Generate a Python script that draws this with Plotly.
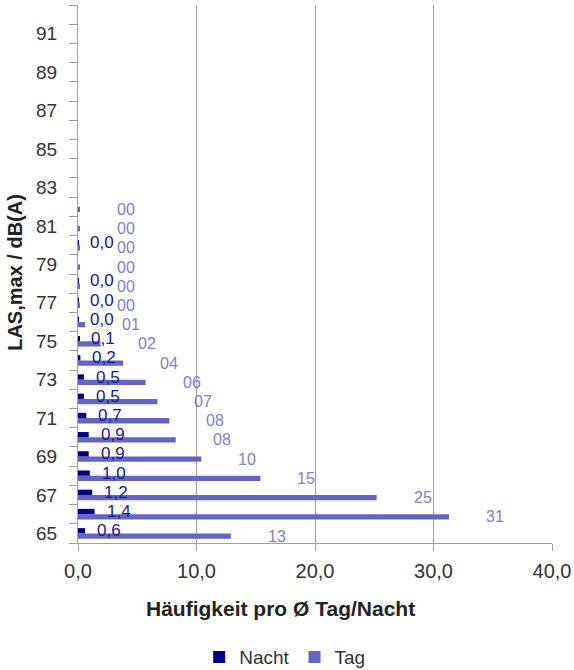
import plotly.graph_objects as go

# ---- data ----
levels = [65, 66, 67, 68, 69, 70, 71, 72, 73, 74, 75, 76, 77, 78,
          79, 80, 81, 82, 83, 84, 85, 86, 87, 88, 89, 90, 91, 92]
nacht = [0.6, 1.4, 1.2, 1.0, 0.9, 0.9, 0.7, 0.5, 0.5, 0.2, 0.1, 0.03, 0.03, 0.03,
         0.0, 0.03, 0.0, 0.0, None, None, None, None, None, None, None, None, None, None]
tag = [12.9, 31.3, 25.2, 15.4, 10.4, 8.25, 7.7, 6.7, 5.7, 3.8, 1.9, 0.6, 0.15, 0.15,
       0.15, 0.15, 0.15, 0.15, None, None, None, None, None, None, None, None, None, None]
y_ticklabels = [65, 67, 69, 71, 73, 75, 77, 79, 81, 83, 85, 87, 89, 91]
x_ticks = [0, 10, 20, 30, 40]

# ---- style ----
C_NACHT = "#000088"
C_TAG = "#6565C1"
C_NACHT_LBL = "#1A1A8C"
C_TAG_LBL = "#8080CC"
GRID = "#A0A0A0"
FONT = "Liberation Sans, Arial, sans-serif"
BARGAP = 0.45
half = (1 - BARGAP) / 4  # offset of each bar centre from category centre

fig = go.Figure()
fig.add_trace(go.Bar(y=levels, x=tag, orientation="h", name="Tag",
                     marker=dict(color=C_TAG, line=dict(width=0)), legendrank=2))
fig.add_trace(go.Bar(y=levels, x=nacht, orientation="h", name="Nacht",
                     marker=dict(color=C_NACHT, line=dict(width=0)), legendrank=1))

annotations = []
for lv, n, t in zip(levels, nacht, tag):
    if t is not None:
        annotations.append(dict(x=t, y=lv - half, xref="x", yref="y",
                                text=f"{int(round(t)):02d}", showarrow=False,
                                xanchor="left", yanchor="middle", xshift=35,
                                font=dict(family=FONT, size=16, color=C_TAG_LBL)))
    if n is not None and n > 0:
        annotations.append(dict(x=n, y=lv + half, xref="x", yref="y",
                                text=f"{n:.1f}".replace(".", ","), showarrow=False,
                                xanchor="left", yanchor="middle", xshift=10,
                                font=dict(family=FONT, size=17, color=C_NACHT_LBL)))

annotations.append(dict(text="<b>Häufigkeit pro Ø Tag/Nacht</b>", xref="paper", yref="paper",
                        x=0.428, y=-0.121, showarrow=False, xanchor="center", yanchor="middle",
                        font=dict(family=FONT, size=21, color="#222222")))
annotations.append(dict(text="<b>LAS,max / dB(A)</b>", xref="paper", yref="paper",
                        x=-0.133, y=0.504, showarrow=False, xanchor="center", yanchor="middle",
                        textangle=-90, font=dict(family=FONT, size=20, color="#222222")))

fig.update_layout(
    width=574, height=670,
    margin=dict(l=78, r=22, t=5, b=127, autoexpand=False),
    paper_bgcolor="white", plot_bgcolor="white",
    barmode="group", bargap=BARGAP, bargroupgap=0,
    separators=",.",
    font=dict(family=FONT, size=19, color="#333333"),
    annotations=annotations,
    legend=dict(orientation="h", xref="paper", yref="paper",
                x=0.436, y=-0.212, xanchor="center", yanchor="middle",
                font=dict(family=FONT, size=19, color="#333333"),
                itemwidth=30, tracegroupgap=0, bgcolor="rgba(0,0,0,0)"),
    showlegend=True,
)

fig.update_xaxes(range=[0, 40], tickmode="array", tickvals=x_ticks, tickformat=".1f",
                 showgrid=True, gridcolor=GRID, gridwidth=1.3,
                 showline=True, linecolor=GRID, linewidth=1.3,
                 ticks="outside", ticklen=7, tickcolor=GRID, tickwidth=1.3,
                 ticklabelstandoff=3, automargin=False,
                 tickfont=dict(family=FONT, size=20, color="#333333"),
                 zeroline=False, fixedrange=True)

fig.update_yaxes(range=[64.5, 92.5], tickmode="array", tickvals=y_ticklabels,
                 ticktext=[str(v) for v in y_ticklabels],
                 showgrid=False, showline=True, linecolor=GRID, linewidth=1.3,
                 ticks="outside", ticklen=8, tickcolor="rgba(0,0,0,0)",
                 ticklabelstandoff=8, automargin=False,
                 minor=dict(tickmode="array", tickvals=[v - 0.5 for v in levels] + [levels[-1] + 0.5],
                            ticks="outside", ticklen=8, tickcolor=GRID, tickwidth=1.3, showgrid=False),
                 tickfont=dict(family=FONT, size=19, color="#333333"),
                 zeroline=False, fixedrange=True)

fig.write_html("out.html", config={"displayModeBar": False},
               post_script="document.body.style.margin='0px';document.body.style.overflow='hidden';")
